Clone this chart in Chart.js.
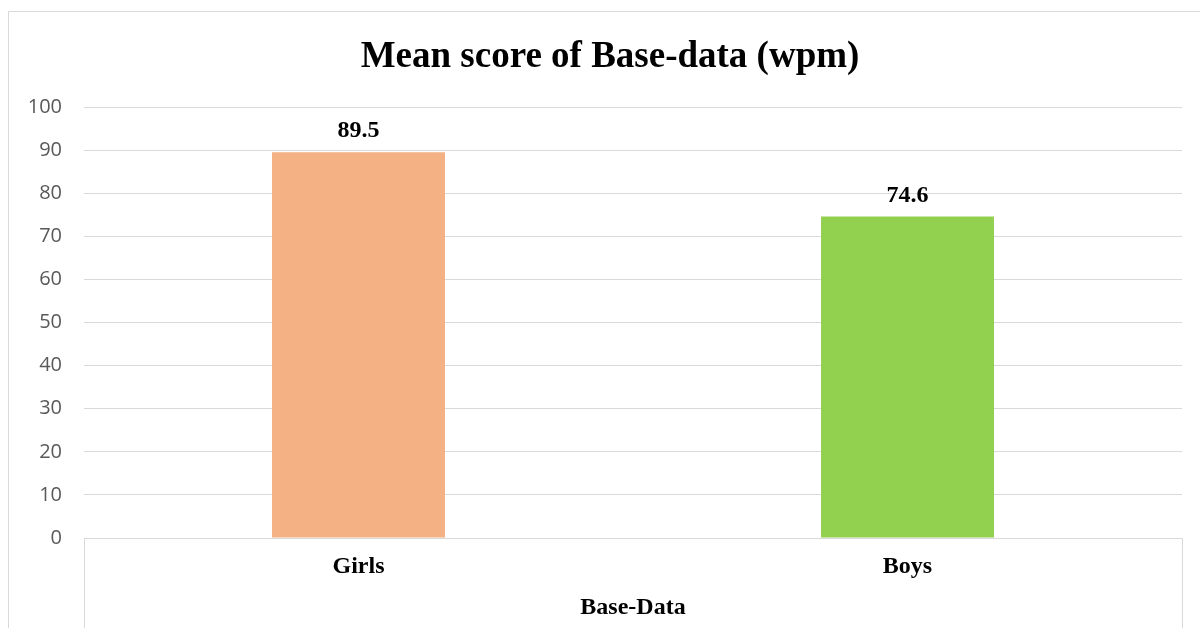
<!DOCTYPE html>
<html>
<head>
<meta charset="utf-8">
<script src="https://cdn.jsdelivr.net/npm/chart.js@4.4.0/dist/chart.umd.min.js"></script>
<style>
  html, body { margin: 0; padding: 0; background: #fff; }
  #wrap { width: 1200px; height: 628px; }
</style>
</head>
<body>
<div id="wrap"><canvas id="chart" width="1200" height="628"></canvas></div>
<script>
const categories = ['Girls', 'Boys'];
const meanScores = [89.5, 74.6];
const barColors = ['#F4B183', '#92D050'];
const yTicks = [0, 10, 20, 30, 40, 50, 60, 70, 80, 90, 100];
const chartTitle = 'Mean score of Base-data (wpm)';
const groupLabel = 'Base-Data';

const serif = '"Liberation Serif", "Times New Roman", serif';
const gridColor = '#d9d9d9';

// outer frame, title, x-axis box and value labels
const decorations = {
  id: 'decorations',
  beforeDraw(chart) {
    const ctx = chart.ctx;
    ctx.save();
    ctx.fillStyle = '#fff';
    ctx.fillRect(0, 0, chart.width, chart.height);
    ctx.strokeStyle = gridColor;
    ctx.lineWidth = 1;
    ctx.beginPath();
    ctx.moveTo(8.5, chart.height);
    ctx.lineTo(8.5, 11.5);
    ctx.lineTo(chart.width, 11.5);
    ctx.stroke();

    ctx.fillStyle = '#000';
    ctx.font = 'bold 37px ' + serif;
    ctx.textAlign = 'center';
    ctx.textBaseline = 'middle';
    ctx.fillText(chartTitle, 610, 57);
    ctx.restore();
  },
  afterDraw(chart) {
    const ctx = chart.ctx;
    const area = chart.chartArea;
    ctx.save();
    ctx.strokeStyle = gridColor;
    ctx.lineWidth = 1;
    ctx.beginPath();
    ctx.moveTo(Math.round(area.left) + 0.5, chart.height);
    ctx.lineTo(Math.round(area.left) + 0.5, Math.round(area.bottom) + 0.5);
    ctx.lineTo(Math.round(area.right) + 0.5, Math.round(area.bottom) + 0.5);
    ctx.lineTo(Math.round(area.right) + 0.5, chart.height);
    ctx.stroke();

    ctx.fillStyle = '#000';
    ctx.font = 'bold 24px ' + serif;
    ctx.textAlign = 'center';
    ctx.textBaseline = 'middle';
    chart.getDatasetMeta(0).data.forEach((bar, i) => {
      ctx.fillText(meanScores[i].toFixed(1), bar.x, bar.y - 21);
    });
    ctx.restore();
  }
};

new Chart(document.getElementById('chart'), {
  type: 'bar',
  data: {
    labels: categories,
    datasets: [{
      data: meanScores,
      backgroundColor: barColors,
      borderWidth: 0,
      categoryPercentage: 1,
      barPercentage: 0.315
    }]
  },
  options: {
    responsive: false,
    animation: false,
    devicePixelRatio: 1,
    layout: { padding: { top: 107, right: 18, left: 0, bottom: 0 } },
    plugins: {
      legend: { display: false },
      title: { display: false },
      tooltip: { enabled: false }
    },
    scales: {
      x: {
        grid: { display: false, drawTicks: false },
        border: { display: false },
        ticks: {
          color: '#000',
          font: { family: serif, size: 24, weight: 'bold' },
          padding: 14
        },
        title: {
          display: true,
          text: groupLabel,
          color: '#000',
          font: { family: serif, size: 24, weight: 'bold' },
          padding: { top: 0, bottom: 6 }
        },
        afterFit(scale) { scale.height = 90; }
      },
      y: {
        min: 0,
        max: 100,
        afterBuildTicks(scale) { scale.ticks = yTicks.map(v => ({ value: v })); },
        grid: { color: gridColor, lineWidth: 1, drawTicks: false },
        border: { display: false },
        ticks: {
          color: '#595959',
          font: { family: '"Open Sans", sans-serif', size: 20 },
          padding: 22
        },
        afterFit(scale) { scale.width = 84; }
      }
    }
  },
  plugins: [decorations]
});
</script>
</body>
</html>
